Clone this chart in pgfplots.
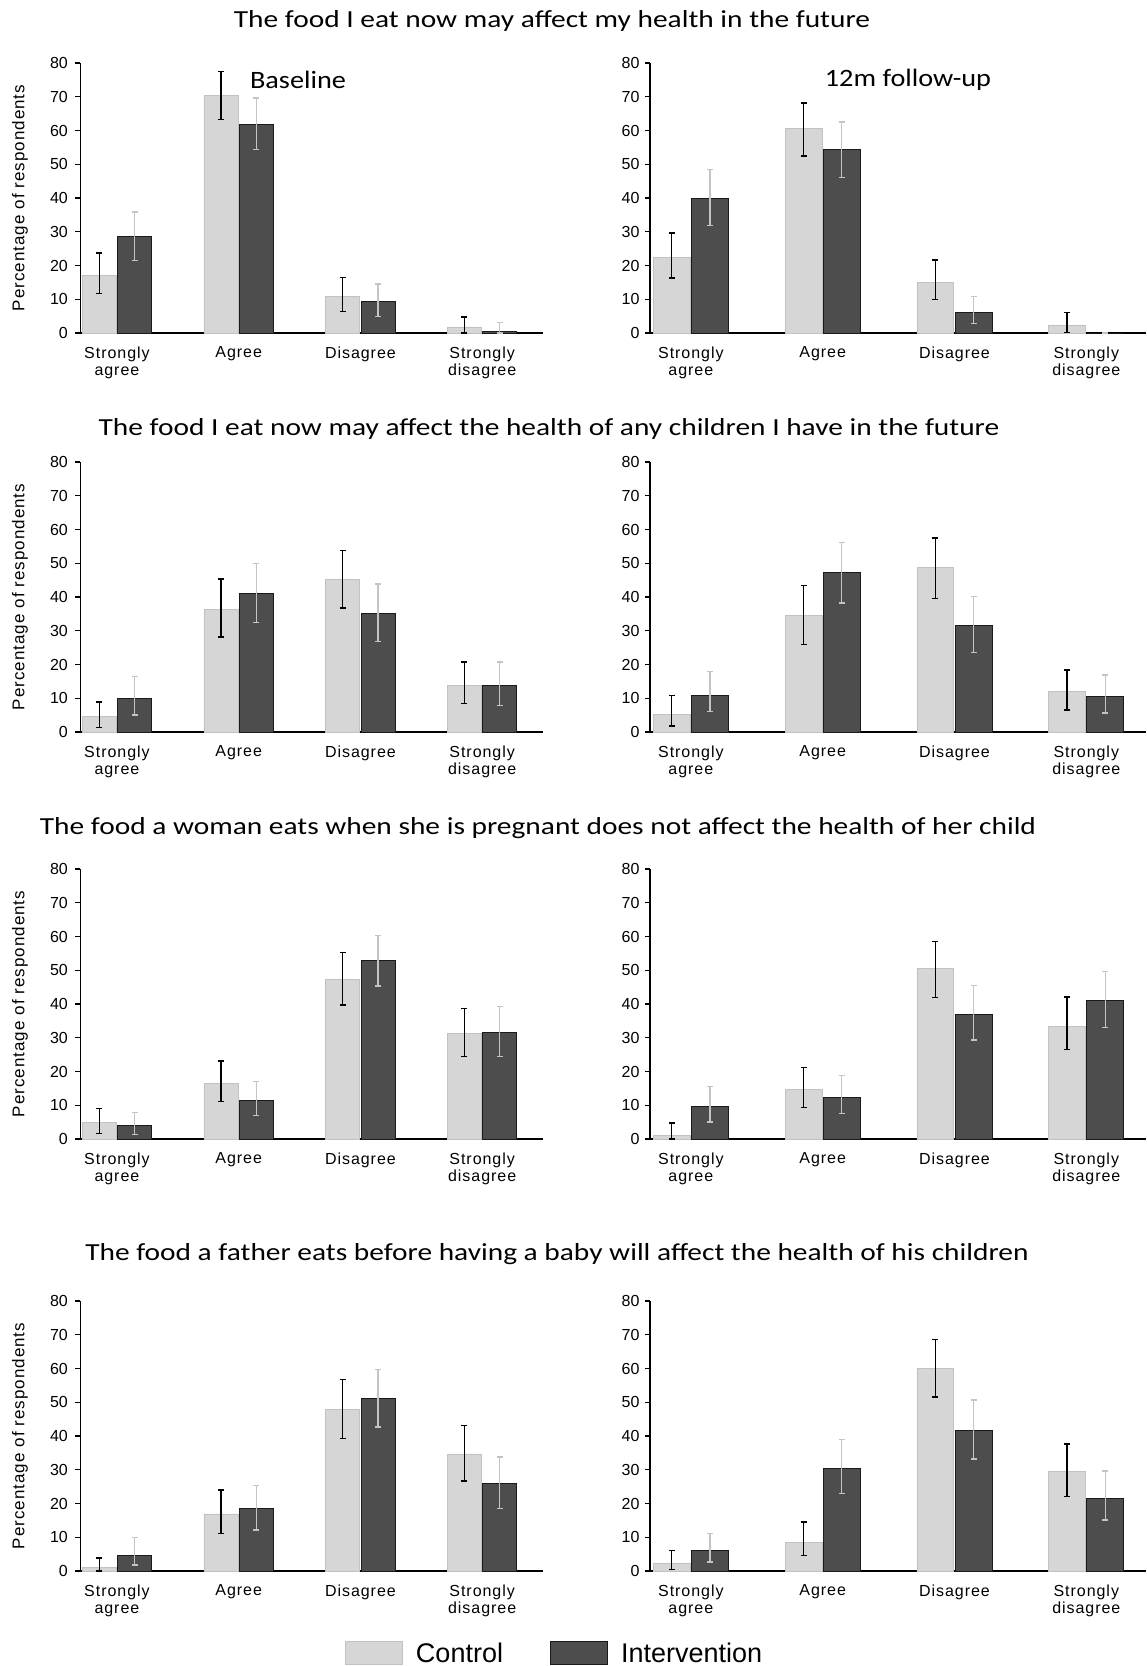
\documentclass[border=0pt]{standalone}
\usepackage{fontspec}
\setmainfont{Liberation Sans}
\newfontfamily\titlefont{Carlito}
\newfontfamily\spacedfont[LetterSpace=6]{Liberation Sans}
\usepackage{pgfplots}
\usepackage{pgfplotstable}
\pgfplotsset{compat=1.18}
\definecolor{ctrl}{HTML}{D6D6D6}
\definecolor{ctrledge}{HTML}{C2C2C2}
\definecolor{intv}{HTML}{4D4D4D}
\definecolor{intvedge}{HTML}{1A1A1A}
\definecolor{ierr}{HTML}{C4C4C4}

% columns: x, control value/low/high, intervention value/low/high
\pgfplotstableread{
x cy clo chi iy ilo ihi
0 17.0 11.7 23.7 28.6 21.5 35.8
1 70.4 63.2 77.5 61.9 54.3 69.6
2 10.9 6.4 16.5 9.4 4.9 14.5
3 1.8 0.0 4.7 0.5 0.0 3.2
}\tAa
\pgfplotstableread{
x cy clo chi iy ilo ihi
0 22.5 16.3 29.6 39.8 31.9 48.4
1 60.5 52.5 68.1 54.5 46.1 62.5
2 15.0 9.9 21.6 6.1 2.8 10.9
3 2.4 0.2 6.1 0.0 0.0 0.0
}\tAb
\pgfplotstableread{
x cy clo chi iy ilo ihi
0 4.5 1.3 8.9 9.9 5.0 16.5
1 36.4 28.2 45.3 41.0 32.4 50.0
2 45.3 36.7 53.8 35.0 26.8 43.9
3 13.7 8.4 20.8 13.7 7.9 20.8
}\tBa
\pgfplotstableread{
x cy clo chi iy ilo ihi
0 5.3 1.8 10.8 10.9 6.1 18.0
1 34.5 25.9 43.4 47.3 38.2 56.2
2 48.7 39.5 57.5 31.7 23.6 40.1
3 11.9 6.5 18.4 10.4 5.6 16.9
}\tBb
\pgfplotstableread{
x cy clo chi iy ilo ihi
0 4.8 1.7 9.0 3.9 1.3 7.9
1 16.5 11.2 23.1 11.4 7.0 17.0
2 47.2 39.7 55.2 52.9 45.3 60.3
3 31.3 24.4 38.7 31.7 24.4 39.3
}\tCa
\pgfplotstableread{
x cy clo chi iy ilo ihi
0 1.0 0.0 4.8 9.5 5.1 15.6
1 14.7 9.4 21.2 12.3 7.5 18.9
2 50.6 42.0 58.6 36.9 29.3 45.4
3 33.4 26.5 42.1 41.1 33.0 49.6
}\tCb
\pgfplotstableread{
x cy clo chi iy ilo ihi
0 1.1 0.0 3.9 4.7 1.8 9.9
1 16.9 11.1 24.0 18.4 12.1 25.3
2 47.9 39.3 56.7 51.2 42.7 59.7
3 34.7 26.7 43.2 25.8 18.6 33.8
}\tDa
\pgfplotstableread{
x cy clo chi iy ilo ihi
0 2.4 0.4 6.1 6.0 2.7 11.1
1 8.5 4.6 14.5 30.5 23.0 38.9
2 60.0 51.6 68.6 41.7 33.2 50.7
3 29.6 22.0 37.6 21.6 15.1 29.6
}\tDb

\pgfplotsset{
  panel/.style={
    scale only axis, height=270pt, ymin=0, ymax=80,
    ytick={0,10,...,80},
    xtick={0,1,2,3},
    xticklabels={{Strongly\\agree},Agree,Disagree,{Strongly\\disagree}},
    axis x line*=bottom, axis y line*=left,
    axis line style={-, line width=1.6pt, black},
    xtick style={draw=none},
    ytick style={line width=1.2pt, black},
    tick align=outside, major tick length=5pt,
    ybar, bar width=0.28,
    /pgf/number format/assume math mode=true,
    yticklabel style={font=\fontsize{16}{16}\selectfont},
    xticklabel style={align=center, font=\spacedfont\fontsize{16}{17}\selectfont, yshift=-5pt},
  },
  leftpanel/.style={panel, width=462.6pt, xmin=-0.30, xmax=3.50,
    yticklabel style={xshift=-4pt},
    ylabel={Percentage of respondents},
    ylabel style={font=\spacedfont\fontsize{17}{17}\selectfont, at={(axis description cs:-0.1306,0.5)}, anchor=center},
  },
  rightpanel/.style={panel, width=496pt, xmin=-0.31, xmax=3.453,
    yticklabel style={xshift=-2pt}},
}

\newcommand\panelplots[1]{%
  \addplot[fill=ctrl, draw=ctrledge, line width=0.8pt, bar shift=-0.145,
    error bars/.cd, y dir=both, y explicit,
    error bar style={black, line width=1.4pt, solid},
    error mark options={rotate=90, black, mark size=3pt, line width=1.4pt}]
    table[x=x, y=cy, y error plus expr=\thisrow{chi}-\thisrow{cy}, y error minus expr=\thisrow{cy}-\thisrow{clo}] {#1};
  \addplot[fill=intv, draw=intvedge, line width=1pt, bar shift=0.145,
    error bars/.cd, y dir=both, y explicit,
    error bar style={ierr, line width=1.4pt, solid},
    error mark options={rotate=90, ierr, mark size=3pt, line width=1.4pt}]
    table[x=x, y=iy, y error plus expr=\thisrow{ihi}-\thisrow{iy}, y error minus expr=\thisrow{iy}-\thisrow{ilo}] {#1};
}
\newcommand\ttl[1]{\scalebox{1.2}[1]{\titlefont\fontsize{24.5}{25}\selectfont #1}}
\newcommand\sub[1]{\scalebox{1.13}[1]{\titlefont\fontsize{25}{25}\selectfont #1}}

\begin{document}
\begin{tikzpicture}
\useasboundingbox (0pt,0pt) rectangle (1147pt,-1666pt);

% row titles
\node at (552pt,-21pt) {\ttl{The food I eat now may affect my health in the future}};
\node at (549pt,-429pt) {\ttl{The food I eat now may affect the health of any children I have in the future}};
\node at (538pt,-828pt) {\ttl{The food a woman eats when she is pregnant does not affect the health of her child}};
\node at (557pt,-1254pt) {\ttl{The food a father eats before having a baby will affect the health of his children}};
\node at (298pt,-80pt) {\sub{Baseline}};
\node at (908pt,-80pt) {\sub{12m follow-up}};

% row 1
\begin{axis}[leftpanel, at={(80.4pt,-333pt)}, anchor=south west]
\panelplots{\tAa}
\end{axis}
\begin{axis}[rightpanel, at={(650pt,-333pt)}, anchor=south west]
\panelplots{\tAb}
\end{axis}
% row 2
\begin{axis}[leftpanel, at={(80.4pt,-732pt)}, anchor=south west]
\panelplots{\tBa}
\end{axis}
\begin{axis}[rightpanel, at={(650pt,-732pt)}, anchor=south west]
\panelplots{\tBb}
\end{axis}
% row 3
\begin{axis}[leftpanel, at={(80.4pt,-1139pt)}, anchor=south west]
\panelplots{\tCa}
\end{axis}
\begin{axis}[rightpanel, at={(650pt,-1139pt)}, anchor=south west]
\panelplots{\tCb}
\end{axis}
% row 4
\begin{axis}[leftpanel, at={(80.4pt,-1571pt)}, anchor=south west,
  legend image code/.code={\draw[#1, line width=1pt] (0pt,-11.5pt) rectangle (57pt,11.5pt);},
  legend style={draw=none, fill=none, legend columns=2, at={(axis description cs:1.025,-0.304)}, anchor=center,
    font=\fontsize{27}{28}\selectfont, cells={anchor=west},
    /tikz/every odd column/.append style={column sep=11pt},
    /tikz/every even column/.append style={column sep=45pt}}]
\panelplots{\tDa}
\legend{Control,Intervention}
\end{axis}
\begin{axis}[rightpanel, at={(650pt,-1571pt)}, anchor=south west]
\panelplots{\tDb}
\end{axis}
\end{tikzpicture}
\end{document}
